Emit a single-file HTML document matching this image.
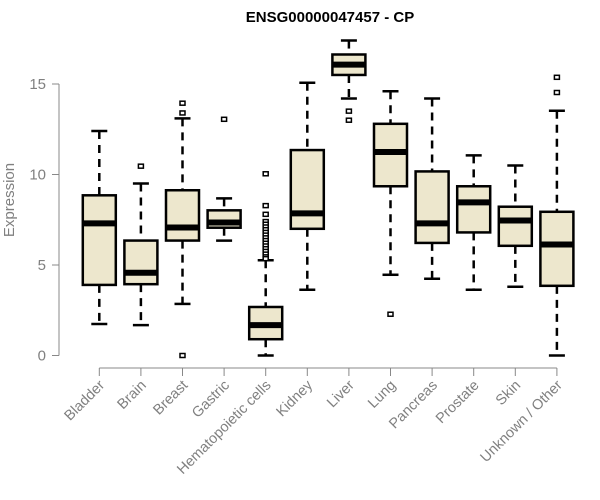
<!DOCTYPE html>
<html><head><meta charset="utf-8"><style>
body{margin:0;background:#fff}
svg{display:block;font-family:"Liberation Sans",Arial,sans-serif}
</style></head><body>
<svg id="chart" width="600" height="500">
<text x="330" y="22" text-anchor="middle" font-size="15" font-weight="bold">ENSG00000047457 - CP</text>
<text transform="translate(14,200) rotate(-90)" text-anchor="middle" font-size="15" fill="#808080">Expression</text>
<g id="plot"></g>
</svg>
<script>
const categories=["Bladder","Brain","Breast","Gastric","Hematopoietic cells","Kidney","Liver","Lung","Pancreas","Prostate","Skin","Unknown / Other"];
const lowerWhisker=[1.74,1.68,2.85,6.35,0,3.63,14.2,4.46,4.24,3.63,3.8,0];
const q1=[3.9,3.94,6.35,7.06,0.9,7.0,15.5,9.35,6.22,6.8,6.06,3.85];
const medians=[7.3,4.57,7.07,7.35,1.68,7.85,16.07,11.24,7.3,8.46,7.46,6.13];
const q3=[8.85,6.35,9.13,8.02,2.68,11.35,16.63,12.8,10.17,9.35,8.22,7.94];
const upperWhisker=[12.4,9.5,13.1,8.68,5.26,15.07,17.4,14.6,14.2,11.06,10.5,13.52];
const outliers=[[],[10.46],[13.94,13.4,0],[13.05],[10.04,8.28,7.8,7.4,7.25,7.1,6.95,6.8,6.65,6.5,6.35,6.2,6.05,5.9,5.75,5.6,5.45,5.35],[],[13.5,13.0],[2.28],[],[],[],[15.37,14.53]];
const yTicks=[0,5,10,15];

const NS="http://www.w3.org/2000/svg";
const g=document.getElementById('plot');
const y=v=>355.5-v*18.1;
const x=i=>99.3+i*41.6;
function mk(t,a){const e=document.createElementNS(NS,t);for(const k in a)e.setAttribute(k,a[k]);g.appendChild(e);return e;}

let ax=mk('line',{x1:59,x2:59,y1:y(0),y2:y(15),stroke:'#888','stroke-width':1});


yTicks.forEach(v=>{
  let t=mk('line',{x1:52,x2:59,y1:y(v),y2:y(v),stroke:'#888'});
  
  
  let l=mk('text',{x:46,y:y(v)+5,'text-anchor':'end','font-size':15,fill:'#808080'});
  l.textContent=v;
  
  
});
let xa=mk('line',{x1:x(0),x2:x(categories.length-1),y1:368,y2:368,stroke:'#888'});



const hw=16.5;
categories.forEach((c,i)=>{
  const cx=x(i);
  let t=mk('line',{x1:cx,x2:cx,y1:368,y2:376,stroke:'#888'});
  
  
  let l=mk('text',{x:0,y:0,'text-anchor':'end','font-size':14.5,fill:'#808080',transform:`translate(${cx+6},${386}) rotate(-45)`});
  l.textContent=c;
  
  
  let w1=mk('line',{x1:cx,x2:cx,y1:y(upperWhisker[i]),y2:y(q3[i]),stroke:'#000','stroke-width':2.5,'stroke-dasharray':'8,6'});
  
  
  let w2=mk('line',{x1:cx,x2:cx,y1:y(q1[i]),y2:y(lowerWhisker[i]),stroke:'#000','stroke-width':2.5,'stroke-dasharray':'8,6'});
  
  
  [upperWhisker[i],lowerWhisker[i]].forEach(v=>{
    let cap=mk('line',{x1:cx-8,x2:cx+8,y1:y(v),y2:y(v),stroke:'#000','stroke-width':2.5});
    
    
  });
  let b=mk('rect',{x:cx-hw,y:y(q3[i]),width:hw*2,height:y(q1[i])-y(q3[i]),fill:'#ede7cd',stroke:'#000','stroke-width':2.5});
  
  
  let m=mk('line',{x1:cx-hw,x2:cx+hw,y1:y(medians[i]),y2:y(medians[i]),stroke:'#000','stroke-width':6});
  
  
  outliers[i].forEach(v=>{
    let o=mk('rect',{x:cx-2.5,y:y(v)-2,width:5,height:4,fill:'#fff',stroke:'#000','stroke-width':1.5});
    
    
  });
});
</script>
</body></html>
